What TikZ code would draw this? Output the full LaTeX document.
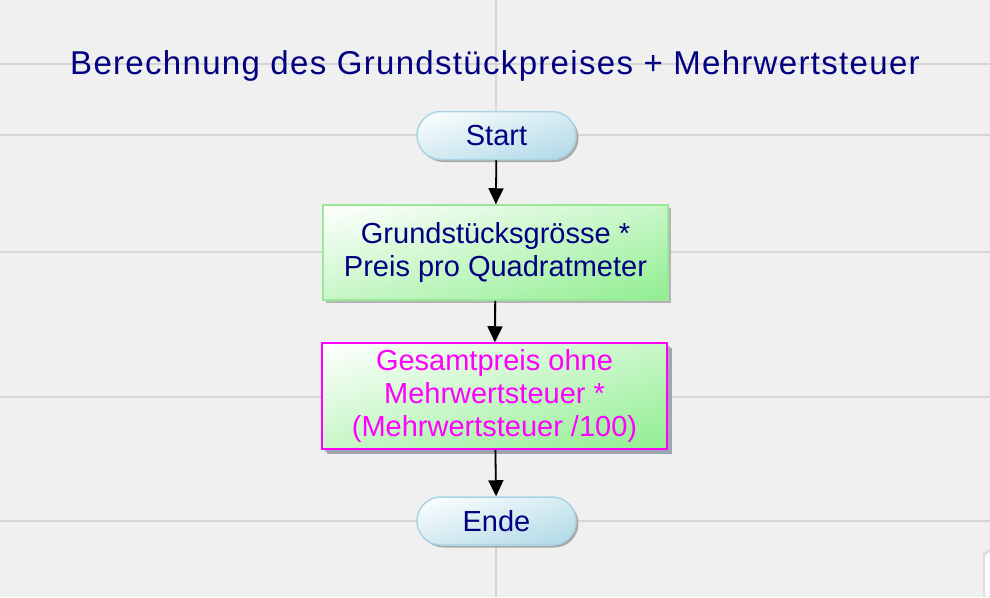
\documentclass[tikz,border=0pt]{standalone}
\usepackage{fontspec}
\setmainfont{Liberation Sans}
\usetikzlibrary{arrows.meta,shadows}
\definecolor{bg}{HTML}{F0F0F0}
\definecolor{gridc}{HTML}{D6D6D6}
\definecolor{navy}{HTML}{000080}
\definecolor{lgreenb}{HTML}{98E898}
\definecolor{lblueb}{HTML}{A8D4E4}
\definecolor{mag}{HTML}{FF00FF}
\definecolor{shadowc}{HTML}{A0A6B0}
\pgfdeclarefunctionalshading{greendiag}{\pgfpointorigin}{\pgfpoint{100bp}{100bp}}{}{
  sub 50 add 100 div
  dup 0 lt {pop 0} if dup 1 gt {pop 1} if
  dup 0.4353 mul 1 exch sub
  exch dup 0.0667 mul 1 exch sub
  exch 0.4353 mul 1 exch sub
}
\pgfdeclarefunctionalshading{bluediag}{\pgfpointorigin}{\pgfpoint{100bp}{100bp}}{}{
  sub 50 add 100 div
  dup 0 lt {pop 0} if dup 1 gt {pop 1} if
  dup 0.3216 mul 1 exch sub
  exch dup 0.1529 mul 1 exch sub
  exch 0.0980 mul 1 exch sub
}
\tikzset{
  terminal/.style={draw=lblueb, line width=1.5pt, rounded corners=24pt,
    shade, shading=bluediag, shading angle=0,
    minimum width=159pt, minimum height=48pt, inner sep=0pt,
    text=navy, font=\fontsize{29}{33}\selectfont,
    drop shadow={shadow xshift=2.5pt, shadow yshift=-2.5pt, fill=black!40, opacity=0.8}},
  procbox/.style={draw=lgreenb, line width=1.5pt,
    shade, shading=greendiag, shading angle=0,
    minimum width=345pt, inner sep=0pt, align=center,
    text=navy, font=\fontsize{29}{33}\selectfont,
    drop shadow={shadow xshift=3pt, shadow yshift=-3pt, fill=black!35, opacity=0.8}},
  magbox/.style={procbox, draw=mag, text=mag,
    drop shadow={shadow xshift=5pt, shadow yshift=-5pt, fill=shadowc, opacity=1}},
  flow/.style={-{Triangle[width=15pt,length=16pt]}, line width=1.8pt, black},
  gridline/.style={gridc, line width=1.5pt},
  titletext/.style={text=navy, font=\fontsize{33}{38}\selectfont\addfontfeature{LetterSpace=4}, inner sep=0pt}
}
\begin{document}
\begin{tikzpicture}[x=1pt,y=1pt]
  \fill[bg] (0,0) rectangle (990,-597);
  \useasboundingbox (0,0) rectangle (990,-597);
  % grid
  \foreach \yy in {64,135,252,397,521} {
    \draw[gridline] (0,-\yy) -- (990,-\yy);
  }
  \draw[gridline] (496,0) -- (496,-597);
  % corner panel
  \fill[black!12] (983,-553) -- (983,-597) -- (990,-597) -- (990,-549) -- cycle;
  \fill[white] (985,-556) [rounded corners=3pt] -- (985,-597) -- (990,-597) -- (990,-551) -- cycle;
  % title
  \node[titletext, anchor=base] (title) at (495,-74.5) {Berechnung des Grundstückpreises + Mehrwertsteuer};
  % nodes
  \node[terminal] (start) at (496.5,-135.5) {Start};
  \node[procbox, minimum height=95pt] (calc1) at (495.5,-252.5) {Grundstücksgrösse *\\Preis pro Quadratmeter};
  \node[magbox, minimum height=106pt] (calc2) at (494.5,-396) {Gesamtpreis ohne\\Mehrwertsteuer *\\(Mehrwertsteuer /100)};
  \node[terminal] (ende) at (496.5,-521) {Ende};
  % connectors
  \draw[flow] (start) -- (calc1);
  \draw[flow] (calc1) -- (calc2);
  \draw[flow] (calc2) -- (ende);
\end{tikzpicture}
\end{document}
